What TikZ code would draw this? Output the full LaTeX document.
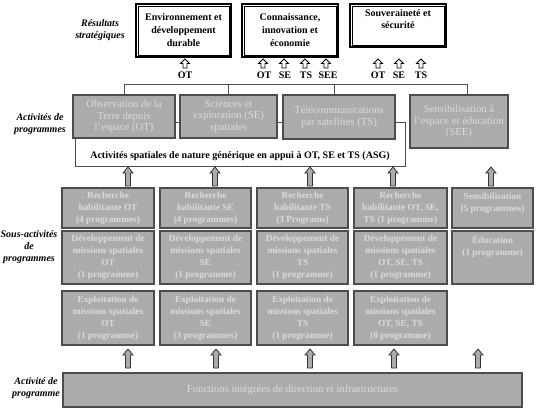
\documentclass[tikz,border=0pt]{standalone}
\usepackage{fontspec}
\setmainfont{Liberation Serif}
\definecolor{gfill}{HTML}{ABABAB}
\definecolor{gtext}{HTML}{DCDCDC}
\definecolor{gline}{HTML}{4D4D4D}
\newcommand{\openarr}[2]{\draw[oarr] (#1-2,#2+9) -- (#1-2,#2+4.5) -- (#1-4.5,#2+4.5) -- (#1,#2) -- (#1+4.5,#2+4.5) -- (#1+2,#2+4.5) -- (#1+2,#2+9) -- cycle;}
\newcommand{\grayarr}[2]{\draw[garr] (#1-2.5,#2+19) -- (#1-2.5,#2+6) -- (#1-5,#2+6) -- (#1,#2) -- (#1+5,#2+6) -- (#1+2.5,#2+6) -- (#1+2.5,#2+19) -- cycle;}
\begin{document}
\begin{tikzpicture}[x=0.75pt,y=-0.75pt,
  sz/.style 2 args={minimum width=#1*0.75pt, minimum height=#2*0.75pt},
  gbox/.style={draw=gline, fill=gfill, text=gtext, line width=0.9pt, align=center, inner sep=0pt, font=\fontsize{7}{9}\selectfont\bfseries},
  pbox/.style={gbox, font=\fontsize{8}{8.8}\selectfont},
  topbox/.style={draw=black, line width=1.4pt, fill=white, align=center, inner sep=0pt, font=\fontsize{7.5}{9.7}\selectfont\bfseries},
  side/.style={align=center, inner sep=0pt, font=\fontsize{7.5}{9.2}\selectfont\bfseries\itshape},
  lab/.style={font=\fontsize{7.5}{9}\selectfont\bfseries, inner sep=0pt},
  conn/.style={draw=gline, line width=0.7pt},
  garr/.style={draw=black!80, fill=gfill, line width=0.6pt},
  oarr/.style={draw=black, fill=white, line width=0.6pt}]
\useasboundingbox (0,0) rectangle (537,411);

% side labels
\node[side] (s1) at (100,30) {Résultats\\stratégiques};
\node[side] (s2) at (40,124) {Activités de\\programmes};
\node[side] (s3) at (29,247) {Sous-activités\\de\\programmes};
\node[side] (s4) at (36,388) {Activité de\\programme};

% strategic outcomes
\node[topbox, sz={95}{53}] (r1) at (183.5,30.5) {Environnement et\\développement\\durable};
\node[topbox, sz={96}{53}] (r2) at (290,30.5) {Connaissance,\\innovation et\\économie};
\node[topbox, sz={96}{43}] (r3) at (398,25.5) {Souveraineté et\\sécurité\\~};
\foreach \b in {r1,r2,r3}{
  \draw[line width=0.5pt] ([shift={(2.3pt,-2.3pt)}]\b.north west) rectangle ([shift={(-2.3pt,2.3pt)}]\b.south east);
}

% open arrows and labels
\openarr{185}{59}
\openarr{263}{59}\openarr{284}{59}\openarr{305}{59}\openarr{326}{59}
\openarr{378}{59}\openarr{399}{59}\openarr{421}{59}
\node[lab] (l1) at (185,75) {OT};
\node[lab] (l2) at (264,75) {OT};
\node[lab] (l3) at (285,75) {SE};
\node[lab] (l4) at (306,75) {TS};
\node[lab] (l5) at (328,75) {SEE};
\node[lab] (l6) at (378,75) {OT};
\node[lab] (l7) at (399,75) {SE};
\node[lab] (l8) at (421,75) {TS};

% program activities
\node[pbox, sz={102}{43}] (ot) at (124,116.5) {Observation de la\\Terre depuis\\l'espace (OT)};
\node[pbox, sz={97}{43}] (se) at (228.5,116.5) {Sciences et\\exploration (SE)\\spatiales};
\node[pbox, sz={112}{44}] (ts) at (339,117) {Télécommunications\\par satellites (TS)};
\node[pbox, sz={98}{53}] (see) at (459,121.5) {Sensibilisation à\\l'espace et éducation\\(SEE)};

% bus
\coordinate (b1) at (124,84);
\coordinate (b2) at (334,84);
\coordinate (b3) at (467,84);
\draw[conn] (b1) -- (b3);
\draw[conn] (ot.north) -- (ot.north |- b1);
\draw[conn] (se.north) -- (se.north |- b1);
\draw[conn] (b2) -- (b2 |- ts.north);
\draw[conn] (b3) -- (b3 |- see.north);

% links and ASG bracket
\coordinate (lk) at (0,122);
\draw[conn] (ot.east |- lk) -- (se.west |- lk);
\draw[conn] (se.east |- lk) -- (ts.west |- lk);
\coordinate (aL) at (75,166);
\coordinate (aR) at (405,166);
\draw[conn] (aL |- ot.south) -- (aL) -- (aR) -- (aR |- lk) -- (ts.east |- lk);
\node[font=\fontsize{7.5}{9}\selectfont\bfseries, inner sep=0pt] (asg) at (240,156) {Activités spatiales de nature générique en appui à OT, SE et TS (ASG)};

% upper gray arrows
\grayarr{128}{167}\grayarr{215}{167}\grayarr{310}{167}\grayarr{393}{167}\grayarr{491}{167}

% sub-activities row 1
\node[gbox, sz={92}{40}] (a1) at (108,208) {Recherche\\habilitante OT\\(4 programmes)};
\node[gbox, sz={91}{40}] (a2) at (205.5,208) {Recherche\\habilitante SE\\(4 programmes)};
\node[gbox, sz={91}{40}] (a3) at (302.5,208) {Recherche\\habilitante TS\\(3 Programs)};
\node[gbox, sz={93}{40}] (a4) at (400.5,208) {Recherche\\habilitante OT, SE,\\TS (1 programme)};
\node[gbox, sz={81}{40}] (a5) at (492.5,208) {Sensibilisation\\(5 programmes)\\~};

% row 2
\node[gbox, sz={92}{53}] (d1) at (108,257.5) {Développement de\\missions spatiales\\OT\\(1 programme)};
\node[gbox, sz={91}{53}] (d2) at (205.5,257.5) {Développement de\\missions spatiales\\SE\\(1 programme)};
\node[gbox, sz={91}{53}] (d3) at (302.5,257.5) {Développement de\\missions spatiales\\TS\\(1 programme)};
\node[gbox, sz={93}{53}] (d4) at (400.5,257.5) {Développement de\\missions spatiales\\OT, SE, TS\\(1 programme)};
\node[gbox, sz={81}{53}] (d5) at (492.5,257.5) {Éducation\\(1 programme)\\~\\~};

% row 3
\node[gbox, sz={92}{54}] (e1) at (108,318) {Exploitation de\\missions spatiales\\OT\\(1 programme)};
\node[gbox, sz={91}{54}] (e2) at (205.5,318) {Exploitation de\\missions spatiales\\SE\\(3 programmes)};
\node[gbox, sz={91}{54}] (e3) at (302.5,318) {Exploitation de\\missions spatiales\\TS\\(1 programme)};
\node[gbox, sz={93}{54}] (e4) at (400.5,318) {Exploitation de\\missions spatiales\\OT, SE, TS\\(0 programme)};

% lower gray arrows
\grayarr{128}{349}\grayarr{216}{349}\grayarr{310}{349}\grayarr{394}{349}\grayarr{478}{349}

% bottom
\node[gbox, sz={459}{34}, font=\fontsize{8}{9}\selectfont] (fi) at (292.5,390) {Fonctions intégrées de direction et infrastructures};
\end{tikzpicture}
\end{document}
